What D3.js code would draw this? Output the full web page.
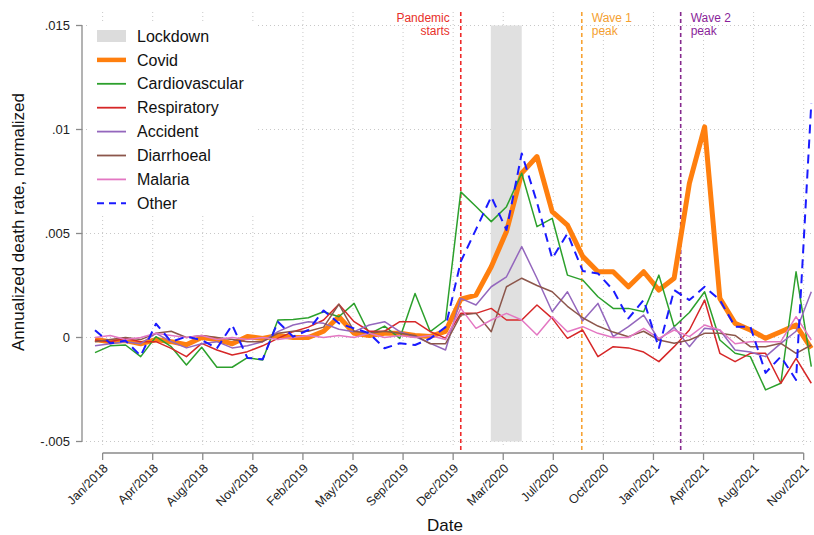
<!DOCTYPE html>
<html>
<head>
<meta charset="utf-8">
<script src="https://cdn.jsdelivr.net/npm/d3@7"></script>
<style>
  html, body { margin: 0; padding: 0; background: #fff; }
  svg { display: block; font-family: "Liberation Sans", Arial, Helvetica, sans-serif; }
</style>
</head>
<body>
<svg id="chart" width="814" height="535"></svg>
<script>
// ---- data (values in death rate units; index 0 = Jan/2018 ... 47 = Dec/2021) ----
const covid = [-0.0001,-0.0002,-0.00015,-0.0003,-0.0001,-0.0002,-0.00035,0.0,-0.0001,-0.0003,0.00005,
  -0.00005,0.0001,0.0,0.0,0.0003,0.001,0.0002,0.0001,0.0002,0.0002,0.0001,0.00005,0.0003,
  0.00184,0.00204,0.0034,0.0051,0.0079,0.0087,0.00605,0.0054,0.0039,0.00316,0.00316,0.00244,
  0.00316,0.00228,0.00285,0.00741,0.01013,0.00188,0.00068,0.00036,-0.00004,0.00028,0.0006,-0.00052];
const cardiovascular = [-0.00073,-0.0004,-0.00036,-0.00092,0.00004,-0.00044,-0.00132,-0.00047,-0.00143,-0.00143,-0.00097,
  -0.00108,0.00084,0.00087,0.00095,0.00124,0.001,0.00164,0.00017,0.00055,-0.00004,0.00212,0.00028,0.00084,
  0.007,0.0063,0.00557,0.00629,0.0079,0.00533,0.00573,0.003,0.00276,0.00196,0.0014,0.0014,
  0.00124,0.003,0.00052,0.0012,0.0022,-0.00012,-0.00076,-0.00092,-0.00252,-0.0022,0.00316,-0.0014];
const respiratory = [-0.00012,-0.0002,-0.00004,-0.0002,-0.0002,-0.00052,-0.00092,-0.00028,-0.0006,-0.00084,-0.00068,
  -0.0004,-0.00004,0.00028,0.0005,0.00084,0.0016,0.00076,0.0003,0.0003,0.00076,0.00076,0.00028,-0.00003,
  0.00116,0.00116,0.0014,0.00084,0.00084,0.00156,0.00092,-0.00004,0.00036,-0.00092,-0.00044,-0.0005,
  -0.0007,-0.00116,-0.00044,0.00036,0.0018,-0.00076,-0.00116,-0.00076,-0.00076,-0.0022,-0.001,-0.0022];
const accident = [-0.0004,-0.0003,-0.0002,-0.0003,0.0002,-0.0002,-0.0005,-0.0003,-0.0002,-0.0005,-0.0004,
  -0.0002,0.00028,0.0006,0.00076,0.00068,0.0004,0.00028,0.0006,0.00076,0.00028,0.00004,-0.00028,-0.0006,
  0.00188,0.00156,0.00244,0.00292,0.00437,0.00285,0.00124,0.0022,0.0008,0.00164,0.00004,0.00052,
  0.00108,-0.00012,0.0005,-0.00044,0.00044,0.00036,-0.0006,-0.0007,-0.00092,-0.00028,0.0003,0.0022];
const diarrhoeal = [-0.0002,-0.0001,0.0,-0.0001,0.0002,0.0003,0.0,0.0001,0.0,-0.0001,-0.0002,
  -0.0002,0.0002,0.0003,0.0003,0.0005,0.0016,0.0003,0.0002,0.0003,0.0002,0.0001,-0.0003,-0.0003,
  0.00108,0.00116,0.00028,0.00244,0.00285,0.0025,0.0022,0.0015,0.00095,0.00055,0.00026,0.00004,
  0.0003,-0.00012,-0.00028,-0.00012,0.0002,0.0002,0.0001,-0.00044,-0.00044,-0.00028,-0.00076,-0.00036];
const malaria = [0.0,0.0001,-0.0001,0.0,0.0002,0.0001,0.0,0.0001,-0.0001,0.0,-0.0001,
  0.0,-0.0001,0.0,0.0001,0.0,0.0001,0.0,0.0002,0.0,0.0001,0.0,0.0001,-0.0001,
  0.0014,0.00044,0.00084,0.00116,0.00084,0.00012,0.001,0.00028,0.00052,0.0002,0.0,0.0,
  0.00044,-0.00004,0.00036,0.00004,0.0006,0.00036,-0.0003,-0.0002,-0.0002,-0.0002,0.001,-0.00012];
const other = [0.00035,-0.00028,-0.00015,-0.00088,0.00066,-0.0002,0.00004,-0.00012,-0.00052,0.0006,-0.00098,
  -0.00105,0.00076,0.00004,0.00036,0.0013,0.00068,0.00044,0.0002,-0.00052,-0.00028,-0.00036,-0.00005,0.0005,
  0.00365,0.0052,0.00677,0.00517,0.00885,0.0065,0.0038,0.005,0.0032,0.00308,0.00228,0.00092,
  0.0018,-0.0005,0.00228,0.0018,0.00244,0.0018,0.00052,0.00052,-0.0017,-0.00092,-0.00204,0.01126];

const seriesNames = ["Covid","Cardiovascular","Respiratory","Accident","Diarrhoeal","Malaria","Other"];
const seriesColors = ["#ff7f0e","#2ca02c","#d62728","#9467bd","#8c564b","#e377c2","#1a1aff"];

const xTickValues = [0.5,3.786,7.071,10.357,13.643,16.929,20.214,23.5,26.786,30.071,33.357,36.643,39.929,43.214,46.5];
const xTickLabels = ["Jan/2018","Apr/2018","Aug/2018","Nov/2018","Feb/2019","May/2019","Sep/2019","Dec/2019",
  "Mar/2020","Jul/2020","Oct/2020","Jan/2021","Apr/2021","Aug/2021","Nov/2021"];
const yTickValues = [0.015,0.01,0.005,0,-0.005];
const yTickLabels = [".015",".01",".005","0","-.005"];

const lockdown = [25.97, 28.0];
const events = [
  {x: 24.0, lines: ["Pandemic","starts"], color: "#ee2a2a", text: "#e8302a", side: "left"},
  {x: 31.94, lines: ["Wave 1","peak"], color: "#f7a233", text: "#f5a030", side: "right"},
  {x: 38.43, lines: ["Wave 2","peak"], color: "#862a8e", text: "#8a1f9a", side: "right"}
];

// ---- drawing ----
const svg = d3.select("#chart");
const x = d3.scaleLinear().domain([0, 47]).range([95, 811.3]);
const y = d3.scaleLinear().domain([-0.005, 0.015]).range([441.5, 25.5]);
const gridColor = "#c8c8c8";
const axisColor = "#8a8a8a";

// gridlines
svg.append("g").selectAll("line").data(yTickValues).join("line")
  .attr("x1", 82).attr("x2", 812).attr("y1", d => y(d)).attr("y2", d => y(d))
  .attr("stroke", gridColor).attr("stroke-width", 1).attr("stroke-dasharray", "1,3");
svg.append("g").selectAll("line").data(xTickValues).join("line")
  .attr("x1", d => x(d)).attr("x2", d => x(d)).attr("y1", 12).attr("y2", 446)
  .attr("stroke", gridColor).attr("stroke-width", 1).attr("stroke-dasharray", "1,3");

// lockdown band
svg.append("rect")
  .attr("x", x(lockdown[0])).attr("width", x(lockdown[1]) - x(lockdown[0]))
  .attr("y", y(0.015)).attr("height", y(-0.005) - y(0.015))
  .attr("fill", "#e0e0e0");

// event lines
events.forEach(e => {
  svg.append("line")
    .attr("x1", x(e.x)).attr("x2", x(e.x)).attr("y1", 12).attr("y2", 453)
    .attr("stroke", e.color).attr("stroke-width", 1.6).attr("stroke-dasharray", "4,3");
  e.lines.forEach((l, i) => {
    svg.append("text")
      .attr("fill", e.text).attr("font-size", 12)
      .attr("text-anchor", e.side === "left" ? "end" : "start")
      .attr("x", e.side === "left" ? x(e.x) - 11 : x(e.x) + 10)
      .attr("y", 22 + i * 13).text(l);
  });
});

// series
const allSeries = [covid, cardiovascular, respiratory, accident, diarrhoeal, malaria, other];
const line = d3.line().x((d, i) => x(i)).y(d => y(d));
allSeries.forEach((s, k) => {
  svg.append("path").datum(s)
    .attr("d", line)
    .attr("fill", "none")
    .attr("stroke", seriesColors[k])
    .attr("stroke-width", k === 0 ? 5 : (k === 6 ? 2 : 1.5))
    .attr("stroke-linejoin", "round")
    .attr("stroke-dasharray", k === 6 ? "9,6" : null);
});

// y axis
const yAxis = svg.append("g");
yAxis.append("line").attr("x1", 82).attr("x2", 82).attr("y1", y(0.015)).attr("y2", y(-0.005))
  .attr("stroke", axisColor).attr("stroke-width", 1.3);
yTickValues.forEach((v, i) => {
  yAxis.append("line").attr("x1", 76).attr("x2", 82).attr("y1", y(v)).attr("y2", y(v))
    .attr("stroke", axisColor).attr("stroke-width", 1.3);
  yAxis.append("text").attr("x", 70).attr("y", y(v)).attr("dy", "0.35em")
    .attr("text-anchor", "end").attr("font-size", 13).attr("fill", "#222").text(yTickLabels[i]);
});

// x axis
const xAxis = svg.append("g");
xAxis.append("line").attr("x1", x(xTickValues[0])).attr("x2", x(xTickValues[xTickValues.length - 1]))
  .attr("y1", 453).attr("y2", 453).attr("stroke", axisColor).attr("stroke-width", 1.3);
xTickValues.forEach((v, i) => {
  xAxis.append("line").attr("x1", x(v)).attr("x2", x(v)).attr("y1", 453).attr("y2", 460)
    .attr("stroke", axisColor).attr("stroke-width", 1.3);
  xAxis.append("text")
    .attr("transform", `translate(${x(v) + 3},${466}) rotate(-45)`)
    .attr("text-anchor", "end").attr("dy", "0.35em")
    .attr("font-size", 12.5).attr("fill", "#222").text(xTickLabels[i]);
});

// axis titles
svg.append("text").attr("transform", "translate(24,222) rotate(-90)")
  .attr("text-anchor", "middle").attr("font-size", 17).attr("fill", "#111")
  .text("Annualized death rate, normalized");
svg.append("text").attr("x", 445).attr("y", 531)
  .attr("text-anchor", "middle").attr("font-size", 17).attr("fill", "#111").text("Date");

// legend
const lg = svg.append("g");
lg.append("rect").attr("x", 88).attr("y", 24).attr("width", 170).attr("height", 192).attr("fill", "#fff");
const rowY = i => 36 + i * 23.9;
lg.append("rect").attr("x", 97).attr("y", rowY(0) - 6).attr("width", 29).attr("height", 12).attr("fill", "#dcdcdc");
lg.append("text").attr("x", 137).attr("y", rowY(0)).attr("dy", "0.35em").attr("font-size", 16)
  .attr("fill", "#111").text("Lockdown");
seriesNames.forEach((n, k) => {
  const yy = rowY(k + 1);
  lg.append("line").attr("x1", 97).attr("x2", 126).attr("y1", yy).attr("y2", yy)
    .attr("stroke", seriesColors[k]).attr("stroke-width", k === 0 ? 4.5 : (k === 6 ? 2 : 1.8))
    .attr("stroke-dasharray", k === 6 ? "7,5" : null);
  lg.append("text").attr("x", 137).attr("y", yy).attr("dy", "0.35em").attr("font-size", 16)
    .attr("fill", "#111").text(n);
});
</script>
</body>
</html>
